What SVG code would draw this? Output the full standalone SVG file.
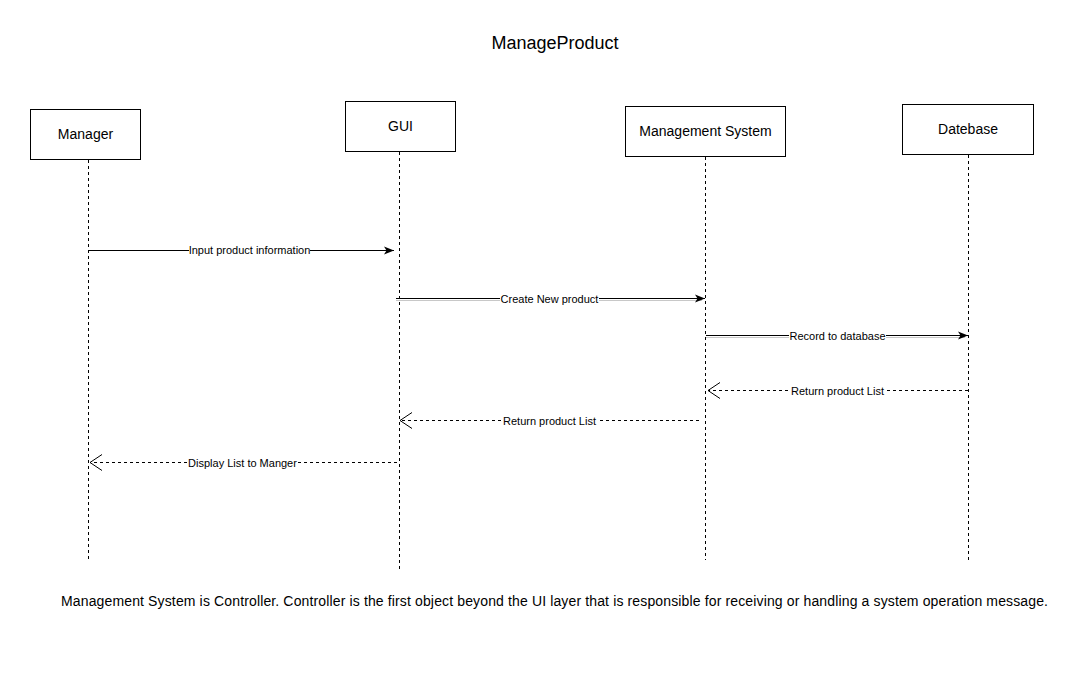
<svg xmlns="http://www.w3.org/2000/svg" width="1077" height="680" viewBox="0 0 1077 680">
<defs>
<style>
text{font-family:"Liberation Sans",Arial,Helvetica,sans-serif;fill:#000}
.box{fill:#fff;stroke:#000;stroke-width:1}
.lbl{font-size:14px;text-anchor:middle}
.life{stroke:#000;stroke-width:1;stroke-dasharray:3 3;fill:none}
.msg{stroke:#000;stroke-width:1;fill:none}
.dash{stroke-dasharray:3 3}
.shadow{stroke:#c8c8c8;stroke-width:1;fill:none}
.ml{font-size:11px;text-anchor:middle}
.bg{fill:#fff}
</style>
<marker id="block" viewBox="0 0 10 10" refX="10" refY="5" markerWidth="10" markerHeight="10" markerUnits="userSpaceOnUse" orient="auto">
<path d="M0,1 L10,5 L0,9 L2.5,5 Z" fill="#000"/>
</marker>
<marker id="open" viewBox="0 0 14 18" refX="13" refY="9" markerWidth="14" markerHeight="18" markerUnits="userSpaceOnUse" orient="auto">
<path d="M1,1 L13,9 L1,17" fill="none" stroke="#000" stroke-width="1"/>
</marker>
</defs>
<rect width="1077" height="680" fill="#fff"/>
<text x="555" y="49" font-size="18" text-anchor="middle">ManageProduct</text>

<g id="manager">
<rect class="box" x="30.5" y="109.5" width="110" height="50"/>
<text class="lbl" x="85.5" y="139">Manager</text>
<line class="life" x1="88.5" y1="160" x2="88.5" y2="560"/>
</g>
<g id="gui">
<rect class="box" x="345.5" y="101.5" width="110" height="50"/>
<text class="lbl" x="400.5" y="131">GUI</text>
<line class="life" x1="399.5" y1="152" x2="399.5" y2="571"/>
</g>
<g id="management-system">
<rect class="box" x="625.5" y="106.5" width="160" height="50"/>
<text class="lbl" x="705.5" y="136">Management System</text>
<line class="life" x1="705.5" y1="157" x2="705.5" y2="560"/>
</g>
<g id="datebase">
<rect class="box" x="902.5" y="104.5" width="131" height="50"/>
<text class="lbl" x="968" y="134">Datebase</text>
<line class="life" x1="968.5" y1="155" x2="968.5" y2="560"/>
</g>

<g id="connectors">
<line class="msg" x1="89" y1="250.5" x2="394" y2="250.5" marker-end="url(#block)"/>
<rect class="bg" x="189" y="244" width="121" height="13"/>
<text class="ml" x="249.5" y="254">Input product information</text>

<line class="shadow" x1="396" y1="300.5" x2="702" y2="300.5"/>
<line class="msg" x1="396" y1="298.5" x2="705" y2="298.5" marker-end="url(#block)"/>
<rect class="bg" x="500" y="292" width="99" height="13"/>
<text class="ml" x="549.5" y="303">Create New product</text>

<line class="shadow" x1="706" y1="337.5" x2="965" y2="337.5"/>
<line class="msg" x1="706" y1="335.5" x2="968" y2="335.5" marker-end="url(#block)"/>
<rect class="bg" x="789" y="329" width="97" height="13"/>
<text class="ml" x="837.5" y="340">Record to database</text>

<line class="msg dash" x1="968" y1="390.5" x2="708" y2="390.5" marker-end="url(#open)"/>
<rect class="bg" x="790" y="384" width="95" height="13"/>
<text class="ml" x="837.5" y="395">Return product List</text>

<line class="msg dash" x1="699" y1="420.5" x2="400" y2="420.5" marker-end="url(#open)"/>
<rect class="bg" x="502" y="414" width="95" height="13"/>
<text class="ml" x="549.5" y="425">Return product List</text>

<line class="msg dash" x1="397" y1="462.5" x2="90" y2="462.5" marker-end="url(#open)"/>
<rect class="bg" x="188" y="456" width="109" height="13"/>
<text class="ml" x="242.5" y="467">Display List to Manger</text>
</g>

<text x="61" y="606" font-size="14" textLength="987" lengthAdjust="spacing">Management System is Controller. Controller is the first object beyond the UI layer that is responsible for receiving or handling a system operation message.</text>
</svg>
